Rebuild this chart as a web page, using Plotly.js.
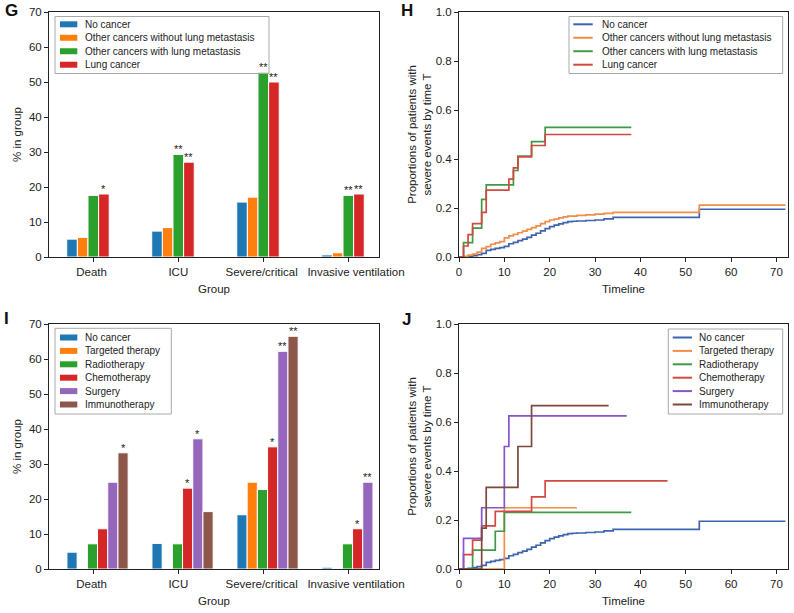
<!DOCTYPE html>
<html><head><meta charset="utf-8">
<script src="https://cdn.plot.ly/plotly-3.0.1.min.js"></script>
<style>html,body{margin:0;padding:0;background:#fff}#chart{width:794px;height:613px}</style>
</head><body><div id="chart"></div>
<script>
// ---------- data ----------
const groups = ['Death', 'ICU', 'Severe/critical', 'Invasive ventilation'];

// Panel G
const gNames = ['No cancer', 'Other cancers without lung metastasis', 'Other cancers with lung metastasis', 'Lung cancer'];
const gNoCancer   = [5.1, 7.4, 15.7, 0.6];
const gOtherNoMet = [5.6, 8.4, 17.1, 1.2];
const gOtherMet   = [17.6, 29.3, 52.8, 17.6];
const gLung       = [18.0, 27.1, 50.0, 18.0];
const gSigNoCancer   = ['', '', '', ''];
const gSigOtherNoMet = ['', '', '', ''];
const gSigOtherMet   = ['', '**', '**', '**'];
const gSigLung       = ['*', '**', '**', '**'];

// Panel H (cumulative proportion, step curves)
const hNames = gNames;
const hNoCancerT = [0,1,2,3,4,5,6,7,8,9,10,11,12,13,14,15,16,17,18,19,20,21,22,23,24,25,26,28,30,32,34,53,72];
const hNoCancer  = [0,0,0.003,0.006,0.01,0.015,0.027,0.031,0.035,0.038,0.043,0.054,0.06,0.067,0.073,0.08,0.089,0.097,0.107,0.116,0.124,0.13,0.135,0.14,0.144,0.146,0.147,0.149,0.151,0.156,0.162,0.195,0.195];
const hOtherNoMetT = [0,1,2,3,4,5,6,7,8,9,10,11,12,13,14,15,16,17,18,19,20,21,22,23,24,26,28,30,32,34,53,72];
const hOtherNoMet  = [0,0.003,0.008,0.012,0.02,0.035,0.042,0.052,0.058,0.063,0.078,0.086,0.092,0.099,0.106,0.113,0.12,0.127,0.136,0.144,0.151,0.155,0.16,0.164,0.167,0.17,0.172,0.175,0.178,0.182,0.212,0.212];
const hOtherMetT = [0,1,3,5,6,12,13,16,19,38];
const hOtherMet  = [0,0.059,0.118,0.235,0.294,0.353,0.412,0.471,0.529,0.529];
const hLungT = [0,1,2,3,5,6,11,12,13,16,19,38];
const hLung  = [0,0.045,0.091,0.136,0.182,0.273,0.318,0.364,0.409,0.455,0.5,0.5];

// Panel I
const iNames = ['No cancer', 'Targeted therapy', 'Radiotherapy', 'Chemotherapy', 'Surgery', 'Immunotherapy'];
const iNoCancer = [4.8, 7.3, 15.5, 0.5];
const iTargeted = [0, 0, 24.8, 0];
const iRadio    = [7.2, 7.2, 22.7, 7.2];
const iChemo    = [11.5, 23.1, 34.9, 11.5];
const iSurgery  = [24.8, 37.2, 62.2, 24.8];
const iImmuno   = [33.2, 16.4, 66.5, 0];
const iSigNoCancer = ['', '', '', ''];
const iSigTargeted = ['', '', '', ''];
const iSigRadio    = ['', '', '', ''];
const iSigChemo    = ['', '*', '*', '*'];
const iSigSurgery  = ['', '*', '**', '**'];
const iSigImmuno   = ['*', '', '**', ''];

// Panel J
const jNames = iNames;
const jNoCancerT = hNoCancerT;
const jNoCancer  = hNoCancer;
const jTargetedT = [0, 10, 26];
const jTargeted  = [0, 0.25, 0.25];
const jRadioT = [0, 3, 8, 10, 38];
const jRadio  = [0, 0.077, 0.154, 0.231, 0.231];
const jChemoT = [0, 1, 3, 5, 8, 16, 19, 46];
const jChemo  = [0, 0.059, 0.118, 0.176, 0.235, 0.294, 0.36, 0.36];
const jSurgeryT = [0, 1, 5, 10, 11, 37];
const jSurgery  = [0, 0.125, 0.25, 0.5, 0.625, 0.625];
const jImmunoT = [0, 5, 6, 13, 16, 33];
const jImmuno  = [0, 0.167, 0.333, 0.5, 0.667, 0.667];

// ---------- styles ----------
const barColors  = ['#1f77b4', '#ff7f0e', '#2ca02c', '#d62728', '#9467bd', '#8c564b'];
const lineColors = ['#3d64ad', '#f28e4a', '#3e9a45', '#d1493f', '#8856c8', '#7b4a3c'];
const FONT = 'Liberation Sans, Arial, Helvetica, sans-serif';
const W = 794, H = 613;
const px = x => x / W;
const py = y => 1 - y / H;
const labelShift = [-0.02, 0, -0.02, 0.09];   // small label nudges (as in the original figure)

const traces = [];
const sigAnnotations = [];
const pos = groups.map((_, k) => k);

function addBars(series, sigs, names, w, xa, ya) {
  series.forEach((vals, i) => {
    traces.push({
      type: 'bar', x: pos, y: vals, xaxis: xa, yaxis: ya, name: names[i],
      width: w, offset: -0.25 + i * w - w / 2,
      marker: {color: barColors[i], line: {color: '#ffffff', width: 1}},
      showlegend: false, hoverinfo: 'skip'
    });
    sigs[i].forEach((s, k) => {
      if (!s) return;
      sigAnnotations.push({xref: xa, yref: ya, x: pos[k] - 0.25 + i * w, y: vals[k],
        xanchor: 'center', yanchor: 'bottom', yshift: -3, showarrow: false, text: s,
        font: {size: 11, color: '#222', family: FONT}});
    });
  });
}
function addLines(ts, vs, names, xa, ya) {
  vs.forEach((vals, i) => {
    traces.push({
      type: 'scatter', mode: 'lines', x: ts[i], y: vals, xaxis: xa, yaxis: ya, name: names[i],
      line: {shape: 'hv', color: lineColors[i], width: 1.7},
      showlegend: false, hoverinfo: 'skip'
    });
  });
}

addBars([gNoCancer, gOtherNoMet, gOtherMet, gLung],
        [gSigNoCancer, gSigOtherNoMet, gSigOtherMet, gSigLung], gNames, 0.125, 'x', 'y');
addLines([hNoCancerT, hOtherNoMetT, hOtherMetT, hLungT],
         [hNoCancer, hOtherNoMet, hOtherMet, hLung], hNames, 'x2', 'y2');
addBars([iNoCancer, iTargeted, iRadio, iChemo, iSurgery, iImmuno],
        [iSigNoCancer, iSigTargeted, iSigRadio, iSigChemo, iSigSurgery, iSigImmuno], iNames, 0.12, 'x3', 'y3');
addLines([jNoCancerT, jTargetedT, jRadioT, jChemoT, jSurgeryT, jImmunoT],
         [jNoCancer, jTargeted, jRadio, jChemo, jSurgery, jImmuno], jNames, 'x4', 'y4');
// empty carriers so the category-label axes get drawn
traces.push({type: 'scatter', mode: 'markers', x: [null], y: [null], xaxis: 'x5', yaxis: 'y', showlegend: false, hoverinfo: 'skip'});
traces.push({type: 'scatter', mode: 'markers', x: [null], y: [null], xaxis: 'x6', yaxis: 'y3', showlegend: false, hoverinfo: 'skip'});

function axis(extra) {
  const base = {
    showline: true, mirror: true, linecolor: '#222', linewidth: 1,
    ticks: 'outside', ticklen: 4, tickwidth: 1, tickcolor: '#222',
    showgrid: false, zeroline: false, fixedrange: true, automargin: false,
    tickfont: {size: 11.5, color: '#222', family: FONT}
  };
  return Object.assign(base, extra);
}
const tfont = {size: 11.5, color: '#222', family: FONT};

const leftDom = [px(49), px(379)];
const rightDom = [px(459), px(788)];
const topDom = [py(257), py(12)];
const botDom = [py(569), py(324)];
const barRange = [-0.521, 3.361];
const timeRange = [0, 72.56];
const labelPos = pos.map((k, j) => k + labelShift[j]);
const yTitle = 'Proportions of patients with<br>severe events by time T';

function labelAxis(base, anchor) {
  return {overlaying: base, anchor: anchor, side: 'bottom', range: barRange, tickmode: 'array',
    tickvals: labelPos, ticktext: groups, tickangle: 0, ticks: 'outside', ticklen: 4, tickcolor: 'rgba(0,0,0,0)',
    showline: false, showgrid: false, zeroline: false, fixedrange: true, automargin: false,
    tickfont: {size: 11.5, color: '#222', family: FONT},
    title: {text: 'Group', font: tfont, standoff: 8}};
}

const layout = {
  width: W, height: H, margin: {l: 0, r: 0, t: 0, b: 0},
  paper_bgcolor: '#fff', plot_bgcolor: '#fff',
  font: {family: FONT, size: 11.5, color: '#222'},
  barmode: 'overlay', showlegend: false,
  xaxis: axis({domain: leftDom, anchor: 'y', range: barRange, tickvals: pos, showticklabels: false}),
  xaxis5: labelAxis('x', 'y'),
  yaxis: axis({domain: topDom, anchor: 'x', range: [0, 70], dtick: 10,
               title: {text: '% in group', font: tfont, standoff: 4}}),
  xaxis2: axis({domain: rightDom, anchor: 'y2', range: timeRange, dtick: 10, tickangle: 0,
               title: {text: 'Timeline', font: tfont, standoff: 8}}),
  yaxis2: axis({domain: topDom, anchor: 'x2', range: [0, 1], dtick: 0.2, tickformat: '.1f',
               title: {text: yTitle, font: tfont, standoff: 1}}),
  xaxis3: axis({domain: leftDom, anchor: 'y3', range: barRange, tickvals: pos, showticklabels: false}),
  xaxis6: labelAxis('x3', 'y3'),
  yaxis3: axis({domain: botDom, anchor: 'x3', range: [0, 70], dtick: 10,
               title: {text: '% in group', font: tfont, standoff: 4}}),
  xaxis4: axis({domain: rightDom, anchor: 'y4', range: timeRange, dtick: 10, tickangle: 0,
               title: {text: 'Timeline', font: tfont, standoff: 8}}),
  yaxis4: axis({domain: botDom, anchor: 'x4', range: [0, 1], dtick: 0.2, tickformat: '.1f',
               title: {text: yTitle, font: tfont, standoff: 1}}),
  shapes: [], annotations: sigAnnotations
};

// custom matplotlib-style legends
function legend(box, names, colors, kind, row0, step, sw0, sw1, tx) {
  layout.shapes.push({type: 'rect', xref: 'paper', yref: 'paper', layer: 'above',
    x0: px(box[0]), x1: px(box[2]), y0: py(box[3]), y1: py(box[1]),
    line: {color: '#a8a8a8', width: 1}, fillcolor: 'rgba(255,255,255,0)'});
  names.forEach((n, i) => {
    const yc = row0 + i * step;
    if (kind === 'bar') {
      layout.shapes.push({type: 'rect', xref: 'paper', yref: 'paper', layer: 'above',
        x0: px(sw0), x1: px(sw1), y0: py(yc + 3), y1: py(yc - 3),
        fillcolor: colors[i], line: {width: 0}});
    } else {
      layout.shapes.push({type: 'line', xref: 'paper', yref: 'paper', layer: 'above',
        x0: px(sw0), x1: px(sw1), y0: py(yc), y1: py(yc),
        line: {color: colors[i], width: 2}});
    }
    layout.annotations.push({xref: 'paper', yref: 'paper', x: px(tx), y: py(yc),
      xanchor: 'left', yanchor: 'middle', showarrow: false, text: n,
      font: {size: 10, color: '#222', family: FONT}});
  });
}
legend([55, 16.5, 269, 73.5], gNames, barColors, 'bar', 24.3, 13.47, 60, 77.3, 83.3);
legend([569, 16.5, 782.7, 73.5], hNames, lineColors, 'line', 24.3, 13.47, 573.3, 592.7, 600);
legend([55, 328.3, 171.3, 414], iNames, barColors, 'bar', 337.5, 13.4, 60, 77.3, 83.3);
legend([668.3, 329, 782.7, 414], jNames, lineColors, 'line', 337.5, 13.4, 672.7, 692, 696.7);

// panel letters
[['G', 11.5, 11], ['H', 407, 11], ['I', 6.5, 318.5], ['J', 406, 319]].forEach(([t, x, y]) => {
  layout.annotations.push({xref: 'paper', yref: 'paper', x: px(x), y: py(y),
    xanchor: 'center', yanchor: 'middle', showarrow: false, text: '<b>' + t + '</b>',
    font: {size: 17, color: '#111', family: FONT}});
});

Plotly.newPlot('chart', traces, layout, {staticPlot: true, displayModeBar: false});
</script>
</body></html>
